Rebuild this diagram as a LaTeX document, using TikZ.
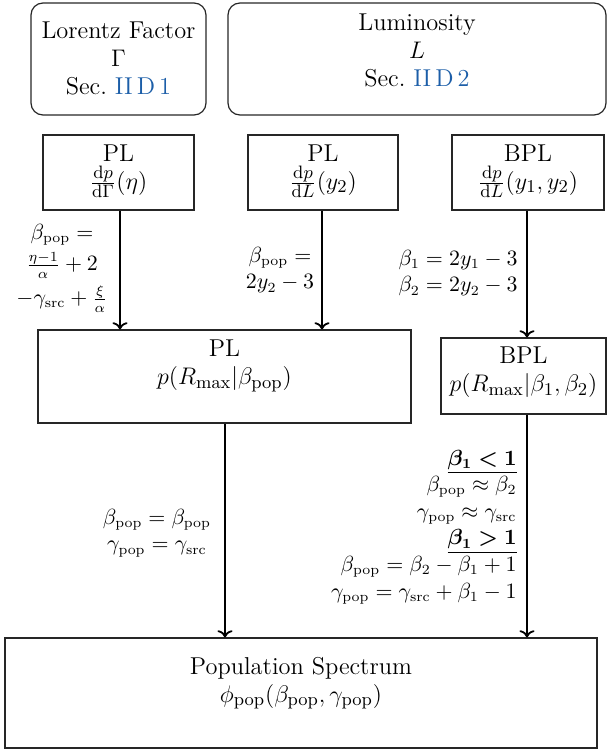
\documentclass[tikz,border=0pt]{standalone}
\usepackage{amsmath,bm}
\usetikzlibrary{arrows.meta}
\definecolor{linkblue}{RGB}{28,94,168}
\begin{document}
\begin{tikzpicture}[x=0.5pt,y=-0.5pt,
  box/.style={draw=black!85,line width=0.6pt,rectangle,inner sep=0pt},
  rbox/.style={box,rounded corners=6pt},
  txt/.style={align=center,inner sep=0pt,font=\fontsize{12.2}{14}\selectfont},
  lab/.style={inner sep=0pt,font=\fontsize{10.7}{13.3}\selectfont},
  arr/.style={->,line width=0.9pt}]
\useasboundingbox (0,0) rectangle (608,750);
% top boxes
\node[rbox,minimum width=87.5pt,minimum height=56pt] (lor) at (118.5,59) {};
\node[txt] (lortxt) at (118.5,58) {Lorentz Factor\\$\Gamma$\\Sec.~\textcolor{linkblue}{II\,D\,1}};
\node[rbox,minimum width=189pt,minimum height=56pt] (lum) at (417,59) {};
\node[txt] (lumtxt) at (417,50) {Luminosity\\$L$\\Sec.~\textcolor{linkblue}{II\,D\,2}};
% second row
\node[box,minimum width=75.5pt,minimum height=37.5pt] (pl1) at (118.5,172.5) {};
\node[txt] (pl1txt) at (118.5,171) {PL\\$\frac{\mathrm{d}p}{\mathrm{d}\Gamma}(\eta)$};
\node[box,minimum width=75pt,minimum height=37.5pt] (pl2) at (323,172.5) {};
\node[txt] (pl2txt) at (323,171) {PL\\$\frac{\mathrm{d}p}{\mathrm{d}L}(y_2)$};
\node[box,minimum width=76pt,minimum height=37.5pt] (bpl) at (528,172.5) {};
\node[txt] (bpltxt) at (528,171) {BPL\\$\frac{\mathrm{d}p}{\mathrm{d}L}(y_1,y_2)$};
% third row
\node[box,minimum width=186.5pt,minimum height=46.5pt] (plbig) at (224.5,376.5) {};
\node[txt] (plbigtxt) at (224.5,366) {PL\\$p(R_{\max}|\beta_{\mathrm{pop}})$};
\node[box,minimum width=82.5pt,minimum height=38pt] (bpl2) at (523.5,376) {};
\node[txt] (bpl2txt) at (523.5,372.5) {BPL\\$p(R_{\max}|\beta_1,\beta_2)$};
% bottom
\node[box,minimum width=296pt,minimum height=55pt] (pop) at (301,693) {};
\node[txt] (poptxt) at (301,683) {Population Spectrum\\$\phi_{\mathrm{pop}}(\beta_{\mathrm{pop}},\gamma_{\mathrm{pop}})$};
% arrows
\draw[arr] ([xshift=0.75pt]pl1.south) -- ([xshift=0.75pt]pl1.south |- plbig.north);
\draw[arr] ([xshift=-0.5pt]pl2.south) -- ([xshift=-0.5pt]pl2.south |- plbig.north);
\draw[arr] ([xshift=-0.5pt]bpl.south) -- ([xshift=-0.5pt]bpl.south |- bpl2.north);
\draw[arr] ([xshift=0.25pt]plbig.south) -- ([xshift=0.25pt]plbig.south |- pop.north);
\draw[arr] ([xshift=1.75pt]bpl2.south) -- ([xshift=1.75pt]bpl2.south |- pop.north);
% labels
\node[lab,align=center] (l1) at (62,268) {$\beta_{\mathrm{pop}} =$\\[2.5pt]$\frac{\eta-1}{\alpha}+2$\\[2.5pt]$-\gamma_{\mathrm{src}}+\frac{\xi}{\alpha}$};
\node[lab,align=center] (l2) at (280,270) {$\beta_{\mathrm{pop}} =$\\$2y_2-3$};
\node[lab,align=center] (l3) at (458,273) {$\beta_1 = 2y_1-3$\\$\beta_2 = 2y_2-3$};
\node[lab,align=center] (l4) at (157,533) {$\beta_{\mathrm{pop}} = \beta_{\mathrm{pop}}$\\$\gamma_{\mathrm{pop}} = \gamma_{\mathrm{src}}$};
\node[lab,align=right,anchor=east] (l5) at (517,527) {$\underline{\bm{\beta_1<1}}$\\$\beta_{\mathrm{pop}}\approx\beta_2$\\$\gamma_{\mathrm{pop}}\approx\gamma_{\mathrm{src}}$\\$\underline{\bm{\beta_1>1}}$\\$\beta_{\mathrm{pop}}=\beta_2-\beta_1+1$\\$\gamma_{\mathrm{pop}}=\gamma_{\mathrm{src}}+\beta_1-1$};
\end{tikzpicture}
\end{document}
